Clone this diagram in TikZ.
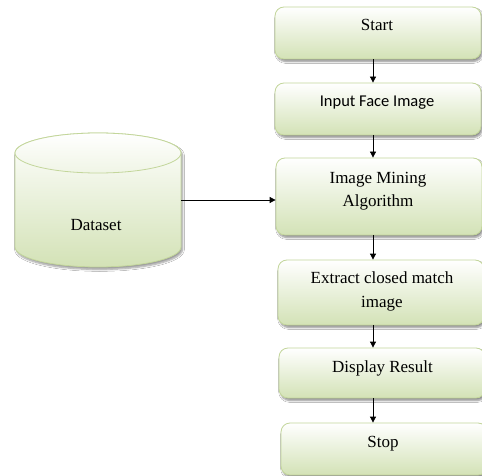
\documentclass[tikz,border=0pt]{standalone}
\usepackage{fontspec}
\setmainfont{Liberation Serif}
\newfontfamily\calib{Carlito}
\usetikzlibrary{shadows.blur,arrows.meta}
\definecolor{gborder}{HTML}{C3D69B}
\definecolor{gfill}{HTML}{D3E2B6}
\tikzset{
  flowbox/.style={draw=gborder, line width=0.8pt, rounded corners=9pt,
    top color=white, bottom color=gfill, minimum width=206pt,
    blur shadow={shadow xshift=1.5pt, shadow yshift=-2.5pt, shadow blur steps=6, shadow opacity=45},
    inner sep=0pt},
  txt/.style={font=\fontsize{17}{24}\selectfont, anchor=base, inner sep=0pt},
  arr/.style={-{Triangle[length=6pt,width=6pt]}, line width=0.8pt, black},
}
\begin{document}
\begin{tikzpicture}[x=1pt,y=1pt]
\useasboundingbox[fill=white] (0,0) rectangle (482,-476);
% boxes
\node[flowbox, minimum height=52pt] (start) at (378,-33) {};
\node[flowbox, minimum height=52pt] (input) at (378,-109) {};
\node[flowbox, minimum height=77pt] (mining) at (379,-196.5) {};
\node[flowbox, minimum height=65pt] (extract) at (381,-292.5) {};
\node[flowbox, minimum height=50pt] (display) at (382,-373) {};
\node[flowbox, minimum height=52pt] (stop) at (384,-449) {};
% texts
\node[txt] (tstart) at (377,-31) {Start};
\node[txt, font=\calib\fontsize{16.5}{20}\selectfont] (tinput) at (377,-107) {Input Face Image};
\node[txt] (tmin1) at (378,-183) {Image Mining};
\node[txt] (tmin2) at (378,-206) {Algorithm};
\node[txt] (text1) at (382,-283) {Extract closed match};
\node[txt] (text2) at (382,-307) {image};
\node[txt] (tdisp) at (382.5,-372) {Display Result};
\node[txt] (tstop) at (383,-447) {Stop};
% cylinder
\path[blur shadow={shadow xshift=1.5pt, shadow yshift=-2.5pt, shadow blur steps=6, shadow opacity=40},
  draw=gborder, line width=0.8pt, top color=white, bottom color=gfill]
  (15,-153) -- (15,-247) arc (180:360:83 and 20) -- (181,-153) arc (0:180:83 and 20) -- cycle;
\path[draw=gborder, line width=0.8pt, top color=white, bottom color=gfill!35]
  (98,-153) ellipse (83 and 20);
\node[txt] (tdata) at (96,-230) {Dataset};
\coordinate (cylr) at (181,-200);
\coordinate (ax) at (373,0);
% arrows
\draw[arr] (cylr) -- (cylr -| mining.west);
\draw[arr] (start.south -| ax) -- (input.north -| ax);
\draw[arr] (input.south -| ax) -- (mining.north -| ax);
\draw[arr] (mining.south -| ax) -- (extract.north -| ax);
\draw[arr] (extract.south -| ax) -- (display.north -| ax);
\draw[arr] (display.south -| ax) -- (stop.north -| ax);
\end{tikzpicture}
\end{document}
